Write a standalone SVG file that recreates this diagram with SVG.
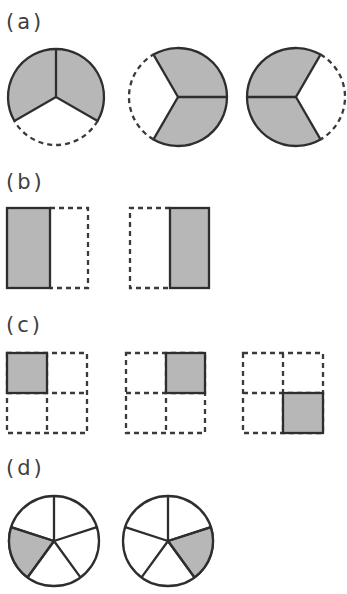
<svg xmlns="http://www.w3.org/2000/svg" width="347" height="594" viewBox="0 0 347 594">
  <style>
    .lbl { font-family: "DejaVu Sans", "Open Sans", sans-serif; font-size: 21px; fill: #404040; letter-spacing: 3px; }
    .sh { fill: #b7b7b7; stroke: #2e2e2e; stroke-width: 2.3; stroke-linejoin: miter; }
    .ln { fill: none; stroke: #2e2e2e; stroke-width: 2.3; }
    .ds { fill: none; stroke: #3a3a3a; stroke-width: 2.3; stroke-dasharray: 5 4; }
    .wf { fill: #fff; stroke: #2e2e2e; stroke-width: 2.3; }
  </style>

  <!-- part (a): three-thirds circles -->
  <text class="lbl" x="6" y="29">(a)</text>
  <g id="a1">
    <path class="sh" d="M56,97 L14.43,121 A48,48 0 1 1 97.57,121 Z"/>
    <path class="ln" d="M56,97 L56,49"/>
    <path class="ds" d="M97.57,121 A48,48 0 0 1 14.43,121"/>
  </g>
  <g id="a2">
    <path class="sh" d="M178,97 L153.5,54.56 A49,49 0 1 1 153.5,139.44 Z"/>
    <path class="ln" d="M178,97 L227,97"/>
    <path class="ds" d="M153.5,139.44 A49,49 0 0 1 153.5,54.56"/>
  </g>
  <g id="a3">
    <path class="sh" d="M296,97 L320.5,139.44 A49,49 0 1 1 320.5,54.56 Z"/>
    <path class="ln" d="M296,97 L247,97"/>
    <path class="ds" d="M320.5,54.56 A49,49 0 0 1 320.5,139.44"/>
  </g>

  <!-- part (b): halves of a rectangle -->
  <text class="lbl" x="6" y="189">(b)</text>
  <g id="b1">
    <path class="ds" d="M50,208 H88 V288 H50"/>
    <rect class="sh" x="7" y="208" width="43" height="80"/>
  </g>
  <g id="b2">
    <path class="ds" d="M170,208 H130 V288 H170"/>
    <rect class="sh" x="170" y="208" width="39" height="80"/>
  </g>

  <!-- part (c): quarters of a square -->
  <text class="lbl" x="6" y="332">(c)</text>
  <g id="c1">
    <path class="ds" d="M7,353 H87 V433 H7 Z M47,353 V433 M7,393 H87"/>
    <rect class="sh" x="7" y="353" width="40" height="40"/>
  </g>
  <g id="c2">
    <path class="ds" d="M126,353 H205 V433 H126 Z M166,353 V433 M126,393 H205"/>
    <rect class="sh" x="166" y="353" width="39" height="40"/>
  </g>
  <g id="c3">
    <path class="ds" d="M243,353 H323 V433 H243 Z M283,353 V433 M243,393 H323"/>
    <rect class="sh" x="283" y="393" width="40" height="40"/>
  </g>

  <!-- part (d): fifths of a circle -->
  <text class="lbl" x="6" y="475">(d)</text>
  <g id="d1">
    <circle class="wf" cx="54" cy="541" r="45"/>
    <path class="sh" d="M54,541 L27.55,577.4 A45,45 0 0 1 11.2,527.1 Z"/>
    <path class="ln" d="M54,541 L54,496 M54,541 L96.8,527.1 M54,541 L80.45,577.4 M54,541 L27.55,577.4 M54,541 L11.2,527.1"/>
  </g>
  <g id="d2">
    <circle class="wf" cx="168" cy="541" r="45"/>
    <path class="sh" d="M168,541 L210.8,527.1 A45,45 0 0 1 194.45,577.4 Z"/>
    <path class="ln" d="M168,541 L168,496 M168,541 L210.8,527.1 M168,541 L194.45,577.4 M168,541 L141.55,577.4 M168,541 L125.2,527.1"/>
  </g>
</svg>
